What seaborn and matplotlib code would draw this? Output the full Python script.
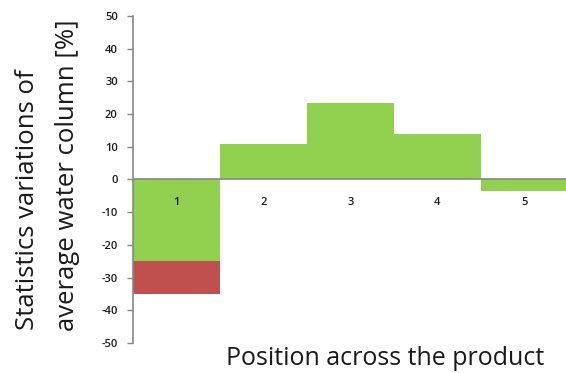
import matplotlib
matplotlib.use("Agg")
import matplotlib.pyplot as plt
import seaborn as sns
import pandas as pd

# Positions across the product and the statistics variation at each
positions = ["1", "2", "3", "4", "5"]
variation = [-25, 11, 23.5, 14, -3.5]
# Extra downward spread (red) reaching below the green bar
spread_low = [-35, 0, 0, 0, 0]

y_ticks = [-50, -40, -30, -20, -10, 0, 10, 20, 30, 40, 50]

GREEN = "#92D050"
RED = "#C0504D"
AXIS_GREY = "#868686"
TEXT = "#1a1a1a"

sns.set_theme(style="white")
plt.rcParams["font.family"] = ["Open Sans", "DejaVu Sans"]

df = pd.DataFrame({"position": positions, "variation": variation, "spread": spread_low})

fig = plt.figure(figsize=(5.66, 3.73), dpi=100)
ax = fig.add_axes([133 / 566, 1 - 343 / 373, 435 / 566, (343 - 16) / 373])

sns.barplot(data=df, x="position", y="spread", color=RED, saturation=1,
            width=1.0, linewidth=0, ax=ax)
sns.barplot(data=df, x="position", y="variation", color=GREEN, saturation=1,
            width=1.0, linewidth=0, ax=ax)

ax.set_xlim(-0.5, 4.5)
ax.set_ylim(-50, 50)
ax.set_yticks(y_ticks)
ax.set_yticklabels([str(t) for t in y_ticks], fontsize=8, color=TEXT, fontweight="semibold")
ax.tick_params(axis="y", direction="out", length=4, width=1, color=AXIS_GREY, pad=7, left=True)
ax.set_xticks([])
ax.set_xlabel("")
ax.set_ylabel("")

for side in ("top", "right", "bottom"):
    ax.spines[side].set_visible(False)
ax.spines["left"].set_color(AXIS_GREY)
ax.spines["left"].set_linewidth(1.2)
ax.axhline(0, color=AXIS_GREY, lw=1.2, zorder=3)

# Category labels sit just below the zero line
for i, p in enumerate(positions):
    ax.text(i, -7, p, ha="center", va="center", fontsize=8, color=TEXT,
            fontweight="semibold", zorder=4)

fig.text(28 / 566, 1 - 200 / 373, "Statistics variations of", rotation=90,
         ha="center", va="center", fontsize=18.5, color=TEXT)
fig.text(68 / 566, 1 - 175 / 373, "average water column [%]", rotation=90,
         ha="center", va="center", fontsize=18.5, color=TEXT)
fig.text(385 / 566, 8 / 373, "Position across the product",
         ha="center", va="baseline", fontsize=18, color=TEXT)

fig.savefig("out.png", dpi=100)
